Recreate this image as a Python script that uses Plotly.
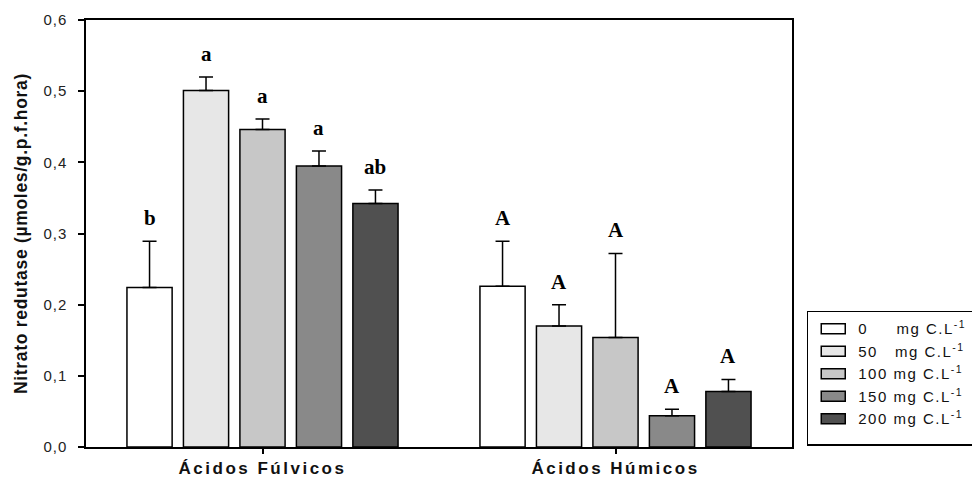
import plotly.graph_objects as go

categories = ["Ácidos Fúlvicos", "Ácidos Húmicos"]
series_names = [
    "0\u00a0\u00a0\u00a0\u00a0\u00a0mg C.L<sup>-1</sup>",
    "50\u00a0\u00a0\u00a0mg C.L<sup>-1</sup>",
    "100 mg C.L<sup>-1</sup>",
    "150 mg C.L<sup>-1</sup>",
    "200 mg C.L<sup>-1</sup>",
]
values_0 = [0.224, 0.226]
values_50 = [0.501, 0.170]
values_100 = [0.446, 0.154]
values_150 = [0.395, 0.044]
values_200 = [0.342, 0.078]
errors_0 = [0.065, 0.063]
errors_50 = [0.019, 0.030]
errors_100 = [0.015, 0.118]
errors_150 = [0.021, 0.009]
errors_200 = [0.019, 0.017]
letters_0 = ["b", "A"]
letters_50 = ["a", "A"]
letters_100 = ["a", "A"]
letters_150 = ["a", "A"]
letters_200 = ["ab", "A"]
y_ticks = [0.0, 0.1, 0.2, 0.3, 0.4, 0.5, 0.6]

values = [values_0, values_50, values_100, values_150, values_200]
errors = [errors_0, errors_50, errors_100, errors_150, errors_200]
letters = [letters_0, letters_50, letters_100, letters_150, letters_200]
colors = ["#ffffff", "#e7e7e7", "#c7c7c7", "#898989", "#505050"]

fig = go.Figure()
for i in range(5):
    fig.add_trace(go.Bar(
        x=categories, y=values[i], name=series_names[i],
        marker=dict(color=colors[i], line=dict(color="#000000", width=1.5)),
        error_y=dict(type="data", array=errors[i], arrayminus=[0, 0], symmetric=False,
                     color="#000000", thickness=1.5, width=7),
        offsetgroup=str(i),
    ))

n = 5
slot = 0.8 / n
for i in range(n):
    for j, cat in enumerate(categories):
        xpos = j - 0.4 + slot * (i + 0.5)
        fig.add_annotation(
            x=xpos, y=values[i][j] + errors[i][j], xref="x", yref="y",
            text="<b>" + letters[i][j] + "</b>", showarrow=False,
            yshift=23, yanchor="middle",
            font=dict(family="Liberation Serif", size=21, color="#000000"),
        )

fig.update_layout(
    width=972, height=482,
    margin=dict(l=86, r=180, t=20, b=35, autoexpand=False),
    paper_bgcolor="#ffffff", plot_bgcolor="#ffffff",
    barmode="group", bargap=0.2, bargroupgap=0.2,
    separators=",.",
    showlegend=True,
    legend=dict(
        xref="container", yref="container",
        x=0.830, y=0.355, xanchor="left", yanchor="top",
        bordercolor="#000000", borderwidth=1.5, bgcolor="#ffffff",
        font=dict(family="Liberation Sans", size=15, color="#111111"),
        tracegroupgap=0, itemwidth=30,
        traceorder="normal",
    ),
    font=dict(family="Liberation Sans", color="#111111"),
)
fig.update_xaxes(
    type="category", range=[-0.5, 1.5], automargin=False,
    showline=True, linecolor="#000000", linewidth=1.5, mirror=True,
    ticks="outside", ticklen=5, tickcolor="#000000", tickwidth=1.5,
    tickfont=dict(family="Liberation Sans", size=17, color="#111111", weight="bold"),
    showgrid=False,
)
fig.update_yaxes(
    range=[0, 0.6], tickvals=y_ticks, tickformat=".1f", automargin=False,
    showline=True, linecolor="#000000", linewidth=1.5, mirror=True,
    ticks="outside", ticklen=6, tickcolor="#000000", tickwidth=1.5,
    ticklabelstandoff=8,
    tickfont=dict(family="Liberation Sans", size=15, color="#222222"),
    showgrid=False, zeroline=False,
    title=dict(text="<b>Nitrato redutase (µmoles/g.p.f.hora)</b>",
               font=dict(family="Liberation Sans", size=17.5, color="#111111"),
               standoff=14),
)

post = """
document.body.style.margin = '0';
document.body.style.padding = '0';
var gd = document.getElementsByClassName('plotly-graph-div')[0];
function sp(sel, v){ gd.querySelectorAll(sel).forEach(function(t){ t.style.letterSpacing = v; }); }
sp('.xtick text', '2.5px');
sp('.ytick text', '1px');
sp('.g-ytitle text', '0.7px');
sp('.legendtext', '1.5px');
var lg = gd.querySelector('.legend');
if (lg) {
  var bg = lg.querySelector('rect.bg');
  if (bg) {
    bg.setAttribute('width', 172);
    var h = parseFloat(bg.getAttribute('height') || '0');
    bg.setAttribute('height', h + 9);
  }
  lg.querySelectorAll('.legendpoints path').forEach(function(p){ p.setAttribute('d', 'M17,5H-7V-5H17Z'); });
  lg.querySelectorAll('text.legendtext').forEach(function(t){
    var x = parseFloat(t.getAttribute('x') || '0'); t.setAttribute('x', x + 10);
  });
}
gd.querySelectorAll('clipPath[id^="legend"] rect').forEach(function(r){
  r.setAttribute('width', 172);
  var h = parseFloat(r.getAttribute('height') || '0'); r.setAttribute('height', h + 9);
});
"""
fig.write_html("out.html", post_script=post, config={"displayModeBar": False})
